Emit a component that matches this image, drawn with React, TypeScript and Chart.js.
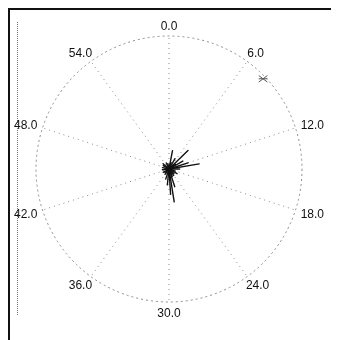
import React, { useEffect, useRef } from "react";
import { Chart, registerables } from "chart.js";

Chart.register(...registerables);

// Angular axis tick labels (0–60 units, 10 spokes)
const angleLabels = ["0.0", "6.0", "12.0", "18.0", "24.0", "30.0", "36.0", "42.0", "48.0", "54.0"];
const angleSpan = 60;

// Vectors: direction (same units as the angular axis) and length (fraction of outer ring)
const vectorAngles = [7.6, 13.4, 28.5, 29.4, 1.8, 10.0, 12.0, 27.0, 31.0, 33.0, 5.0, 47.0, 52.0, 40.0, 20.0, 24.0, 56.0, 15.0, 36.0, 44.0, 3.0, 18.0, 26.0, 38.0, 50.0, 58.0, 9.0, 22.0];
const vectorLengths = [0.2, 0.23, 0.25, 0.19, 0.14, 0.12, 0.15, 0.14, 0.12, 0.08, 0.09, 0.05, 0.06, 0.05, 0.07, 0.06, 0.05, 0.08, 0.05, 0.05, 0.05, 0.05, 0.06, 0.04, 0.05, 0.04, 0.06, 0.05];

// Marker (mean direction) near the outer ring
const markerAngles = [7.7];
const markerLengths = [0.98];

const FONT = "12px 'Liberation Sans', Arial, sans-serif";

const vectorPlugin = {
  id: "vectors",
  afterDraw(chart: any) {
    const scale = chart.scales.r;
    const ctx = chart.ctx;
    const per = angleSpan / angleLabels.length;
    const R = scale.drawingArea;
    ctx.save();

    // angular tick labels
    ctx.font = FONT;
    ctx.fillStyle = "#111";
    ctx.textAlign = "center";
    ctx.textBaseline = "alphabetic";
    const capH = 8.6;
    for (let i = 0; i < angleLabels.length; i++) {
      const ang = (i * 2 * Math.PI) / angleLabels.length;
      const p = scale.getPointPosition(i, R + 6);
      const w = ctx.measureText(angleLabels[i]).width;
      const cx = p.x + (w / 2) * Math.sin(ang);
      const cy = p.y - (capH / 2) * Math.cos(ang);
      ctx.fillText(angleLabels[i], cx, cy + capH / 2);
    }

    // vectors
    ctx.strokeStyle = "#111";
    ctx.lineWidth = 1.4;
    ctx.lineCap = "round";
    for (let i = 0; i < vectorAngles.length; i++) {
      const idx = vectorAngles[i] / per;
      const d = scale.getDistanceFromCenterForValue(vectorLengths[i]);
      const p = scale.getPointPosition(idx, d);
      ctx.beginPath();
      ctx.moveTo(scale.xCenter, scale.yCenter);
      ctx.lineTo(p.x, p.y);
      ctx.stroke();
    }

    // marker
    ctx.strokeStyle = "#555";
    ctx.lineWidth = 1;
    for (let i = 0; i < markerAngles.length; i++) {
      const idx = markerAngles[i] / per;
      const d = scale.getDistanceFromCenterForValue(markerLengths[i]);
      const p = scale.getPointPosition(idx, d);
      ctx.beginPath();
      ctx.moveTo(p.x - 4, p.y - 3);
      ctx.lineTo(p.x + 4, p.y + 3);
      ctx.moveTo(p.x - 4, p.y + 3);
      ctx.lineTo(p.x + 4, p.y - 3);
      ctx.moveTo(p.x - 4, p.y);
      ctx.lineTo(p.x + 4, p.y);
      ctx.stroke();
    }
    ctx.restore();
  },
};

export default function App() {
  const ref = useRef<HTMLCanvasElement>(null);
  useEffect(() => {
    if (!ref.current) return;
    const chart = new Chart(ref.current, {
      type: "radar",
      data: {
        labels: angleLabels,
        datasets: [
          {
            data: angleLabels.map(() => null),
            borderWidth: 0,
            pointRadius: 0,
          },
        ],
      },
      options: {
        animation: false,
        responsive: false,
        maintainAspectRatio: false,
        plugins: { legend: { display: false }, tooltip: { enabled: false } },
        layout: { padding: 27 },
        scales: {
          r: {
            min: 0,
            max: 1,
            ticks: { display: false, stepSize: 1 },
            grid: {
              circular: true,
              color: "#8a8a8a",
              lineWidth: 1,
            },
            border: { dash: [2, 3] },
            angleLines: {
              color: "#8a8a8a",
              lineWidth: 1,
              borderDash: [1, 4],
            },
            pointLabels: { display: false },
          },
        },
      },
      plugins: [vectorPlugin],
    });
    return () => chart.destroy();
  }, []);

  return (
    <div
      style={{
        position: "relative",
        width: 331,
        height: 332,
        borderTop: "2px solid #111",
        borderLeft: "2px solid #111",
        boxSizing: "border-box",
      }}
    >
      <div
        style={{
          position: "absolute",
          left: 7,
          top: 12,
          height: 293,
          borderLeft: "1px dotted #777",
        }}
      />
      <canvas
        ref={ref}
        width={320}
        height={320}
        style={{ position: "absolute", left: -1, top: -1 }}
      />
    </div>
  );
}
